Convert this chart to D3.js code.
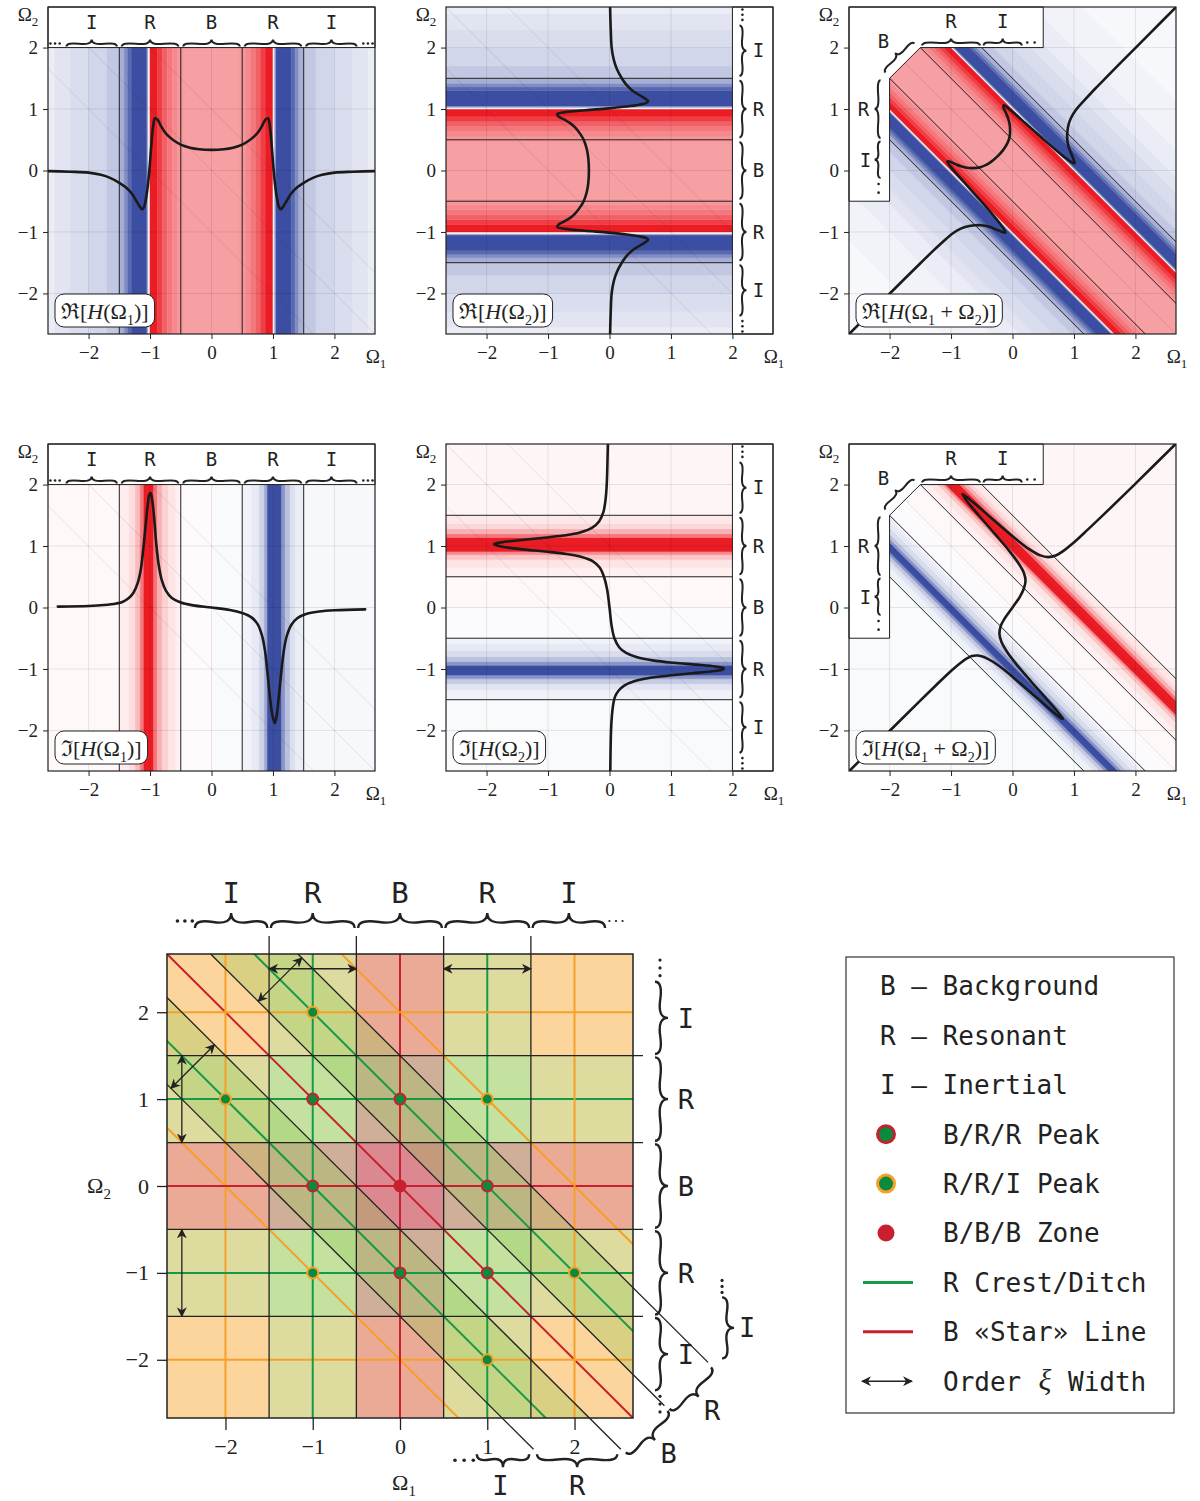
<!DOCTYPE html>
<html>
<head>
<meta charset="utf-8">
<script src="https://cdn.jsdelivr.net/npm/d3@7"></script>
<style>
  body { margin: 0; background: #fff; }
  svg { display: block; }
  .mono { font-family: "DejaVu Sans Mono", monospace; fill: #222; }
  .serif { font-family: "Liberation Serif", "DejaVu Serif", serif; fill: #222; }
</style>
</head>
<body>
<svg id="fig" width="1200" height="1501"></svg>
<script>
// ---- data ----
const ticks = [-2, -1, 0, 1, 2];
const regionBounds = [-1.5, -0.5, 0.5, 1.5];
const regionNames = ["I", "R", "B", "R", "I"];
const diagGrid = [-1, 0, 1];

// Re[H(Ω)] as drawn in the first panel
const reOmega = [-5.4, -4.5, -3.5, -3.0, -2.65, -2.3, -2.0, -1.8, -1.65, -1.5, -1.4, -1.3, -1.22, -1.17, -1.13, -1.1,
  -1.07, -1.04, -1.01, -0.98, -0.95, -0.92, -0.88, -0.83, -0.77, -0.7, -0.6, -0.5, -0.35, -0.2, 0,
  0.2, 0.35, 0.5, 0.6, 0.7, 0.77, 0.83, 0.88, 0.92, 0.95, 0.98, 1.01, 1.04, 1.07, 1.1, 1.13, 1.17, 1.22,
  1.3, 1.4, 1.5, 1.65, 1.8, 2.0, 2.3, 2.65, 3.0, 3.5, 4.5, 5.4];
const reValue = [-0.002, -0.003, -0.005, -0.008, -0.01, -0.02, -0.035, -0.07, -0.12, -0.2, -0.27, -0.37, -0.5, -0.58, -0.63, -0.6,
  -0.48, -0.28, 0.02, 0.4, 0.72, 0.85, 0.83, 0.74, 0.64, 0.56, 0.48, 0.42, 0.37, 0.345, 0.335,
  0.345, 0.37, 0.42, 0.48, 0.56, 0.64, 0.74, 0.83, 0.85, 0.72, 0.4, 0.02, -0.28, -0.48, -0.6, -0.63, -0.58, -0.5,
  -0.37, -0.27, -0.2, -0.12, -0.07, -0.035, -0.02, -0.01, -0.008, -0.005, -0.003, -0.002];

// Im[H(Ω)] as drawn in the fourth panel
const imOmega = [-5.4, -4, -3, -2.5, -2.0, -1.75, -1.55, -1.45, -1.35, -1.27, -1.2, -1.15, -1.11, -1.07, -1.04, -1.01,
  -0.99, -0.96, -0.93, -0.9, -0.86, -0.81, -0.74, -0.65, -0.5, -0.3, 0, 0.3, 0.5, 0.65, 0.75, 0.82, 0.87, 0.91,
  0.95, 0.99, 1.03, 1.06, 1.09, 1.13, 1.17, 1.22, 1.3, 1.4, 1.55, 1.75, 2.0, 2.5, 3, 4, 5.4];
const imValue = [0.003, 0.006, 0.01, 0.015, 0.025, 0.04, 0.065, 0.09, 0.15, 0.24, 0.4, 0.62, 0.95, 1.35, 1.65, 1.84,
  1.86, 1.72, 1.42, 1.05, 0.7, 0.45, 0.27, 0.16, 0.08, 0.035, 0, -0.04, -0.09, -0.16, -0.27, -0.45, -0.7, -1.05,
  -1.45, -1.75, -1.88, -1.76, -1.5, -1.1, -0.75, -0.48, -0.28, -0.17, -0.1, -0.065, -0.045, -0.03, -0.02, -0.01, -0.004];

// shading bands [from, to, level]; -1 full blue, +1 full red
const reShade = [[-5.5, -3.8, -0.04], [-3.8, -3.0, -0.07], [-3.0, -2.55, -0.1], [-2.55, -2.3, -0.15], [-2.3, -2.0, -0.19],
  [-2.0, -1.7, -0.23], [-1.7, -1.5, -0.31], [-1.5, -1.42, -0.45], [-1.42, -1.36, -0.65], [-1.36, -1.3, -0.85],
  [-1.3, -1.05, -1], [-1.05, -1.025, -0.5], [-1.025, -1.0, 0], [-1.0, -0.88, 1], [-0.88, -0.8, 0.85],
  [-0.8, -0.72, 0.7], [-0.72, -0.64, 0.6], [-0.64, -0.55, 0.52], [-0.55, -0.45, 0.46], [-0.45, 0.45, 0.42],
  [0.45, 0.55, 0.46], [0.55, 0.64, 0.52], [0.64, 0.72, 0.6], [0.72, 0.8, 0.7], [0.8, 0.88, 0.85], [0.88, 1.0, 1],
  [1.0, 1.025, 0], [1.025, 1.05, -0.5], [1.05, 1.3, -1], [1.3, 1.36, -0.85], [1.36, 1.42, -0.65], [1.42, 1.5, -0.45],
  [1.5, 1.7, -0.31], [1.7, 2.0, -0.23], [2.0, 2.3, -0.19], [2.3, 2.55, -0.15], [2.55, 3.0, -0.1], [3.0, 3.8, -0.07],
  [3.8, 5.5, -0.04]];
const imShade = [[-5.5, -1.5, 0.03], [-1.5, -1.34, 0.08], [-1.34, -1.24, 0.15], [-1.24, -1.16, 0.3], [-1.16, -1.1, 0.6],
  [-1.1, -0.94, 1], [-0.94, -0.88, 0.6], [-0.88, -0.8, 0.35], [-0.8, -0.7, 0.2], [-0.7, -0.58, 0.12],
  [-0.58, -0.5, 0.07], [-0.5, 0, 0.02], [0, 0.5, -0.03], [0.5, 0.65, -0.07], [0.65, 0.78, -0.12],
  [0.78, 0.86, -0.25], [0.86, 0.91, -0.5], [0.91, 1.14, -1], [1.14, 1.2, -0.6], [1.2, 1.28, -0.35],
  [1.28, 1.36, -0.18], [1.36, 1.5, -0.1], [1.5, 5.5, -0.04]];

// bottom map
const lineLevels = [-2, -1, 0, 1, 2];
const lineKinds = ["I", "R", "B", "R", "I"];
const brrPeaks = [[-1, 1], [0, 1], [-1, 0], [1, 0], [0, -1], [1, -1]];
const rriPeaks = [[-1, 2], [-2, 1], [1, 1], [-1, -1], [2, -1], [1, -2]];
const bbbZone = [[0, 0]];
const widthArrows = [
  [[-1.5, 2.5], [-0.5, 2.5]], [[0.5, 2.5], [1.5, 2.5]],
  [[-1.625, 2.125], [-1.125, 2.625]], [[-2.625, 1.125], [-2.125, 1.625]],
  [[-2.5, 1.5], [-2.5, 0.5]], [[-2.5, -0.5], [-2.5, -1.5]]];
const legendRows = [
  {sym: "B", text: "Background"}, {sym: "R", text: "Resonant"}, {sym: "I", text: "Inertial"},
  {sym: "brr", text: "B/R/R Peak"}, {sym: "rri", text: "R/R/I Peak"}, {sym: "bbb", text: "B/B/B Zone"},
  {sym: "crest", text: "R Crest/Ditch"}, {sym: "star", text: "B «Star» Line"}, {sym: "arrow", text: "Order"}];

// ---- styling ----
const RED = "#ec1c24", BLUE = "#3b4ea2";
const heat = d3.scaleLinear().domain([-1, 0, 1]).range([BLUE, "#ffffff", RED]);
const zoneFill = {I: "#fde9c7", R: "#e0f0ca", B: "#edbac0"};
const lineColor = {I: "#f6a02a", R: "#179a48", B: "#c8202f"};
const PEAK_GREEN = "#0a8a3c";

const svg = d3.select("#fig");
const defs = svg.append("defs");
defs.append("marker").attr("id", "ah").attr("viewBox", "0 0 10 10").attr("refX", 9).attr("refY", 5)
  .attr("markerWidth", 10).attr("markerHeight", 10).attr("markerUnits", "userSpaceOnUse")
  .attr("orient", "auto-start-reverse")
  .append("path").attr("d", "M0,0 L10,5 L0,10 L3,5 Z").attr("fill", "#222");

function richText(sel, parts, subSize) {
  let shift = 0;
  parts.forEach(([t, s]) => {
    const ts = sel.append("tspan").text(t);
    const want = s === "sub" ? 0.3 * subSize * 1.4 : 0;
    if (want !== shift) { ts.attr("dy", want - shift); shift = want; }
    if (s === "sub") ts.attr("font-size", subSize);
    if (s === "it") ts.attr("font-style", "italic");
  });
}

// curly brace from p1 to p2, cusp on the left of the direction p1->p2
function brace(x1, y1, x2, y2, w) {
  const len = Math.hypot(x2 - x1, y2 - y1), ux = (x2 - x1) / len, uy = (y2 - y1) / len;
  const nx = uy, ny = -ux, q = 0.6;
  const p = (a, b) => (x1 + ux * a + nx * b).toFixed(2) + " " + (y1 + uy * a + ny * b).toFixed(2);
  return `M${p(0, 0)} Q${p(0, q * w)} ${p(len * 0.25, (1 - q) * w)} T${p(len * 0.5, w)} ` +
    `M${p(len, 0)} Q${p(len, q * w)} ${p(len * 0.75, (1 - q) * w)} T${p(len * 0.5, w)}`;
}
function dots(g, x1, y1, x2, y2, n, r) {
  d3.range(n).forEach(i => {
    const t = n === 1 ? 0 : i / (n - 1);
    g.append("circle").attr("cx", x1 + (x2 - x1) * t).attr("cy", y1 + (y2 - y1) * t).attr("r", r).attr("fill", "#222");
  });
}
function letter(g, x, y, t, size) {
  g.append("text").attr("class", "mono").attr("x", x).attr("y", y).attr("text-anchor", "middle")
    .attr("dy", "0.36em").attr("font-size", size).text(t);
}

// ---- six response panels ----
const SIZE = 327, DOM = [-2.66, 2.66], L = 9;
const panels = [
  {left: 48, top: 7, kind: "x", src: "re", sign: 1, fn: "ℜ", args: ["1"], span: [-9, 9]},
  {left: 446, top: 7, kind: "y", src: "re", sign: 1, fn: "ℜ", args: ["2"], span: [-9, 9]},
  {left: 849, top: 7, kind: "s", src: "re", sign: 1, fn: "ℜ", args: ["1", "2"], span: [-9, 9]},
  {left: 48, top: 444, kind: "x", src: "im", sign: 1, fn: "ℑ", args: ["1"], span: [-2.56, 2.6]},
  {left: 446, top: 444, kind: "y", src: "im", sign: -1, fn: "ℑ", args: ["2"], span: [-9, 9]},
  {left: 849, top: 444, kind: "s", src: "im", sign: -1, fn: "ℑ", args: ["1", "2"], span: [-9, 9]}
];

function drawPanel(p, idx) {
  const x = d3.scaleLinear().domain(DOM).range([p.left, p.left + SIZE]);
  const y = d3.scaleLinear().domain(DOM).range([p.top + SIZE, p.top]);
  const toPath = pts => d3.line().x(d => x(d[0])).y(d => y(d[1]))(pts) + "Z";
  const g = svg.append("g");
  const cid = "clip" + idx;
  defs.append("clipPath").attr("id", cid).append("rect")
    .attr("x", p.left).attr("y", p.top).attr("width", SIZE).attr("height", SIZE);
  const inner = g.append("g").attr("clip-path", `url(#${cid})`);

  const shade = p.src === "re" ? reShade : imShade;
  const oms = p.src === "re" ? reOmega : imOmega;
  const vals = p.src === "re" ? reValue : imValue;

  const band = (a, b) => {
    if (p.kind === "x") return [[a, -L], [b, -L], [b, L], [a, L]];
    if (p.kind === "y") return [[-L, a], [L, a], [L, b], [-L, b]];
    return [[a + L, -L], [b + L, -L], [b - L, L], [a - L, L]];
  };
  const lineAt = c => {
    if (p.kind === "x") return [[c, -L], [c, L]];
    if (p.kind === "y") return [[-L, c], [L, c]];
    return [[c + L, -L], [c - L, L]];
  };

  inner.selectAll("path.band").data(shade).join("path").attr("class", "band")
    .attr("d", d => toPath(band(d[0], d[1])))
    .attr("fill", d => heat(p.sign * d[2])).attr("stroke", d => heat(p.sign * d[2])).attr("stroke-width", 0.5);

  // light grid
  const grid = inner.append("g").attr("stroke", "#000").attr("stroke-opacity", 0.09).attr("stroke-width", 1);
  ticks.forEach(t => {
    grid.append("line").attr("x1", x(t)).attr("x2", x(t)).attr("y1", p.top).attr("y2", p.top + SIZE);
    grid.append("line").attr("y1", y(t)).attr("y2", y(t)).attr("x1", p.left).attr("x2", p.left + SIZE);
  });
  diagGrid.forEach(s => grid.append("line")
    .attr("x1", x(s + L)).attr("y1", y(-L)).attr("x2", x(s - L)).attr("y2", y(L)));

  // region borders
  regionBounds.forEach(b => {
    const [a, c] = lineAt(b);
    inner.append("line").attr("x1", x(a[0])).attr("y1", y(a[1])).attr("x2", x(c[0])).attr("y2", y(c[1]))
      .attr("stroke", "#222").attr("stroke-width", 1);
  });

  // response curve
  const pts = [];
  oms.forEach((w, i) => {
    if (w < p.span[0] || w > p.span[1]) return;
    const v = p.sign * vals[i];
    if (p.kind === "x") pts.push([w, v]);
    else if (p.kind === "y") pts.push([-v, w]);
    else pts.push([w / 2 - v / Math.SQRT2, w / 2 + v / Math.SQRT2]);
  });
  inner.append("path").attr("d", d3.line().x(d => x(d[0])).y(d => y(d[1])).curve(d3.curveCatmullRom.alpha(0.5))(pts))
    .attr("fill", "none").attr("stroke", "#1a1a1a").attr("stroke-width", 2.6).attr("stroke-linejoin", "round")
    .attr("stroke-linecap", "round");

  // label box with braces
  const box = g.append("g");
  let boxD;
  if (p.kind === "x") boxD = `M${p.left},${p.top}H${p.left + SIZE}V${y(2)}H${p.left}Z`;
  else if (p.kind === "y") boxD = `M${x(2)},${p.top}H${p.left + SIZE}V${p.top + SIZE}H${x(2)}Z`;
  else boxD = `M${p.left},${p.top}H${x(0.5)}V${y(2)}H${x(-1.5)}L${x(-2)},${y(1.5)}V${y(-0.5)}H${p.left}Z`;
  box.append("path").attr("d", boxD).attr("fill", "#fff").attr("stroke", "#222").attr("stroke-width", 1);
  const br = box.append("g").attr("fill", "none").attr("stroke", "#222").attr("stroke-width", 2);
  const spans = [[-2.36, -1.54], [-1.46, -0.54], [-0.46, 0.46], [0.54, 1.46], [1.54, 2.36]];
  if (p.kind === "x") {
    const yb = y(2) - 1;
    spans.forEach((s, i) => {
      br.append("path").attr("d", brace(x(s[0]), yb, x(s[1]), yb, 7));
      letter(box, x((s[0] + s[1]) / 2), p.top + 15, regionNames[i], 19);
    });
    dots(box, x(-2.62), yb - 3, x(-2.47), yb - 3, 3, 1.3);
    dots(box, x(2.47), yb - 3, x(2.62), yb - 3, 3, 1.3);
  } else if (p.kind === "y") {
    const xb = x(2) + 7;
    spans.forEach((s, i) => {
      br.append("path").attr("d", brace(xb, y(s[1]), xb, y(s[0]), 7));
      letter(box, x(2) + 26, y((s[0] + s[1]) / 2), regionNames[i], 19);
    });
    dots(box, xb + 3, y(2.62), xb + 3, y(2.45), 3, 1.3);
    dots(box, xb + 3, y(-2.45), xb + 3, y(-2.62), 3, 1.3);
  } else {
    const yb = y(2) - 2;
    br.append("path").attr("d", brace(x(-1.47), yb, x(-0.53), yb, 7));
    br.append("path").attr("d", brace(x(-0.47), yb, x(0.15), yb, 7));
    letter(box, x(-1), p.top + 14, "R", 19);
    letter(box, x(-0.16), p.top + 14, "I", 19);
    dots(box, x(0.24), yb - 3, x(0.36), yb - 3, 2, 1.3);
    const xb = x(-2) - 9;
    br.append("path").attr("d", brace(xb, y(0.53), xb, y(1.47), 6));
    br.append("path").attr("d", brace(xb, y(-0.12), xb, y(0.47), 6));
    letter(box, x(-2) - 26, y(1), "R", 19);
    letter(box, x(-2) - 24, y(0.17), "I", 19);
    dots(box, xb - 2, y(-0.22), xb - 2, y(-0.36), 2, 1.3);
    br.append("path").attr("d", brace(x(-2) - 4, y(1.53) - 4, x(-1.53) - 4, y(2) - 4, 7));
    letter(box, x(-2) - 6, y(2) - 6, "B", 19);
  }

  // frame and axes
  g.append("rect").attr("x", p.left).attr("y", p.top).attr("width", SIZE).attr("height", SIZE)
    .attr("fill", "none").attr("stroke", "#222").attr("stroke-width", 1.2);
  const fmt = d3.format("d");
  const ax = g.append("g").attr("transform", `translate(0,${p.top + SIZE})`)
    .call(d3.axisBottom(x).tickValues(ticks).tickSize(5).tickPadding(7).tickFormat(fmt));
  const ay = g.append("g").attr("transform", `translate(${p.left},0)`)
    .call(d3.axisLeft(y).tickValues(ticks).tickSize(5).tickPadding(5).tickFormat(fmt));
  [ax, ay].forEach(a => {
    a.select(".domain").remove();
    a.attr("font-family", null).attr("font-size", null);
    a.selectAll("line").attr("stroke", "#222");
    a.selectAll("text").attr("class", "serif").attr("font-size", 19).attr("fill", "#222");
  });
  richText(g.append("text").attr("class", "serif").attr("font-size", 19).attr("text-anchor", "middle")
    .attr("x", p.left - 20).attr("y", p.top + 14), [["Ω", ""], ["2", "sub"]], 13);
  richText(g.append("text").attr("class", "serif").attr("font-size", 19).attr("text-anchor", "middle")
    .attr("x", p.left + SIZE + 1).attr("y", p.top + SIZE + 29), [["Ω", ""], ["1", "sub"]], 13);

  // function label
  const lab = g.append("g");
  const txt = lab.append("text").attr("class", "serif").attr("font-size", 22)
    .attr("x", p.left + 13).attr("y", p.top + SIZE - 15);
  const parts = [[p.fn + "[", ""], ["H", "it"], ["(Ω", ""], [p.args[0], "sub"]];
  if (p.args.length > 1) parts.push([" + Ω", ""], [p.args[1], "sub"]);
  parts.push([")]", ""]);
  richText(txt, parts, 14);
  const bb = txt.node().getBBox();
  lab.insert("rect", "text").attr("x", bb.x - 6).attr("y", p.top + SIZE - 40).attr("width", bb.width + 12)
    .attr("height", 33).attr("rx", 9).attr("fill", "#fff").attr("stroke", "#222").attr("stroke-width", 1);
}
panels.forEach(drawPanel);

// ---- bottom map of zones ----
const bx = d3.scaleLinear().domain([-2.67, 2.67]).range([167, 633]);
const by = d3.scaleLinear().domain([-2.67, 2.67]).range([1418, 954]);
const edges = [-2.67, ...regionBounds, 2.67];
const mapG = svg.append("g");
defs.append("clipPath").attr("id", "mapclip").append("rect")
  .attr("x", 167).attr("y", 954).attr("width", 466).attr("height", 464);
const cells = mapG.append("g").attr("clip-path", "url(#mapclip)").style("isolation", "isolate");
cells.append("rect").attr("x", 167).attr("y", 954).attr("width", 466).attr("height", 464).attr("fill", "#fff");
regionNames.forEach((n, i) => {
  cells.append("rect").attr("x", bx(edges[i])).attr("width", bx(edges[i + 1]) - bx(edges[i]))
    .attr("y", 954).attr("height", 464).attr("fill", zoneFill[n]).style("mix-blend-mode", "multiply");
  cells.append("rect").attr("y", by(edges[i + 1])).attr("height", by(edges[i]) - by(edges[i + 1]))
    .attr("x", 167).attr("width", 466).attr("fill", zoneFill[n]).style("mix-blend-mode", "multiply");
});
[[-1.5, -0.5], [0.5, 1.5]].forEach(([a, b]) => {
  const pts = [[a + L, -L], [b + L, -L], [b - L, L], [a - L, L]];
  cells.append("path").attr("d", d3.line().x(d => bx(d[0])).y(d => by(d[1]))(pts) + "Z")
    .attr("fill", "#8cc850").attr("fill-opacity", 0.3);
});
const colored = mapG.append("g").attr("clip-path", "url(#mapclip)").attr("stroke-width", 2);
lineLevels.forEach((c, i) => {
  colored.append("line").attr("x1", bx(c + L)).attr("y1", by(-L)).attr("x2", bx(c - L)).attr("y2", by(L))
    .attr("stroke", lineColor[lineKinds[i]]);
});
lineLevels.forEach((c, i) => {
  const col = lineColor[lineKinds[i]];
  colored.append("line").attr("x1", bx(c)).attr("x2", bx(c)).attr("y1", 954).attr("y2", 1418).attr("stroke", col);
  colored.append("line").attr("y1", by(c)).attr("y2", by(c)).attr("x1", 167).attr("x2", 633).attr("stroke", col);
});
// zone borders, extended past the frame towards the brace labels
const blk = mapG.append("g").attr("stroke", "#222").attr("stroke-width", 1.3);
regionBounds.forEach(b => {
  blk.append("line").attr("x1", bx(b)).attr("x2", bx(b)).attr("y1", 936).attr("y2", 1418);
  blk.append("line").attr("y1", by(b)).attr("y2", by(b)).attr("x1", 167).attr("x2", 643);
  const xs = Math.max(-2.67, b - 2.67);
  const xe = Math.min(b + 3.03, (b + 5.56) / 2);
  blk.append("line").attr("x1", bx(xs)).attr("y1", by(b - xs)).attr("x2", bx(xe)).attr("y2", by(b - xe));
});
mapG.append("rect").attr("x", 167).attr("y", 954).attr("width", 466).attr("height", 464)
  .attr("fill", "none").attr("stroke", "#222").attr("stroke-width", 1.5);

// peaks
const peakG = mapG.append("g");
brrPeaks.forEach(d => peakG.append("circle").attr("cx", bx(d[0])).attr("cy", by(d[1])).attr("r", 5.5)
  .attr("fill", PEAK_GREEN).attr("stroke", lineColor.B).attr("stroke-width", 2));
rriPeaks.forEach(d => peakG.append("circle").attr("cx", bx(d[0])).attr("cy", by(d[1])).attr("r", 5.5)
  .attr("fill", PEAK_GREEN).attr("stroke", lineColor.I).attr("stroke-width", 2));
bbbZone.forEach(d => peakG.append("circle").attr("cx", bx(d[0])).attr("cy", by(d[1])).attr("r", 6.5)
  .attr("fill", lineColor.B));

// width arrows
widthArrows.forEach(([a, b]) => mapG.append("line")
  .attr("x1", bx(a[0])).attr("y1", by(a[1])).attr("x2", bx(b[0])).attr("y2", by(b[1]))
  .attr("stroke", "#222").attr("stroke-width", 1.3)
  .attr("marker-start", "url(#ah)").attr("marker-end", "url(#ah)"));

// axes of the map
const mfmt = d3.format("d");
const max = mapG.append("g").attr("transform", "translate(0,1418)")
  .call(d3.axisBottom(bx).tickValues(ticks).tickSize(12).tickPadding(8).tickFormat(mfmt));
const may = mapG.append("g").attr("transform", "translate(167,0)")
  .call(d3.axisLeft(by).tickValues(ticks).tickSize(10).tickPadding(8).tickFormat(mfmt));
[max, may].forEach(a => {
  a.select(".domain").remove();
  a.attr("font-family", null).attr("font-size", null);
  a.selectAll("line").attr("stroke", "#222").attr("stroke-width", 1.3);
  a.selectAll("text").attr("class", "serif").attr("font-size", 22).attr("fill", "#222");
});
richText(mapG.append("text").attr("class", "serif").attr("font-size", 22).attr("text-anchor", "middle")
  .attr("x", 99).attr("y", 1193), [["Ω", ""], ["2", "sub"]], 15);
richText(mapG.append("text").attr("class", "serif").attr("font-size", 22).attr("text-anchor", "middle")
  .attr("x", 404).attr("y", 1490), [["Ω", ""], ["1", "sub"]], 15);

// braces around the map
const mb = mapG.append("g").attr("fill", "none").attr("stroke", "#222").attr("stroke-width", 2.4);
const topSpans = [[-2.35, -1.52], [-1.48, -0.52], [-0.48, 0.48], [0.52, 1.48], [1.52, 2.35]];
topSpans.forEach((s, i) => {
  mb.append("path").attr("d", brace(bx(s[0]), 928, bx(s[1]), 928, 15));
  letter(mapG, bx((s[0] + s[1]) / 2), 893, regionNames[i], 29);
  mb.append("path").attr("d", brace(655, by(-s[0]), 655, by(-s[1]), 13));
  letter(mapG, 686, by(-(s[0] + s[1]) / 2), regionNames[i], 27);
});
dots(mapG, bx(-2.55), 921, bx(-2.38), 921, 3, 1.8);
dots(mapG, bx(2.4), 921, bx(2.55), 921, 3, 1.1);
dots(mapG, 660, by(2.6), 660, by(2.42), 3, 1.6);
dots(mapG, 660, by(-2.42), 660, by(-2.6), 3, 1.6);

// diagonal zone labels at the lower right
const endC = [bx(2.53), by(-3.03)], endB = [bx(3.03), by(-2.53)], endA = [bx(3.53), by(-2.03)];
const yBot = by(-3.03) + 5;
mb.append("path").attr("d", brace(bx(2.49), yBot, bx(1.57), yBot, 13));
mb.append("path").attr("d", brace(bx(1.48), yBot, bx(0.88), yBot, 13));
dots(mapG, bx(0.63), yBot + 6, bx(0.84), yBot + 6, 3, 1.8);
letter(mapG, bx(2.03), 1485, "R", 27);
letter(mapG, bx(1.15), 1485, "I", 27);
const diagBrace = (p1, p2, t) => {
  const a = [p1[0] + 4, p1[1] + 4], b = [p2[0] + 4, p2[1] + 4];
  mb.append("path").attr("d", brace(a[0] - 1, a[1] + 1, b[0] + 1, b[1] - 1, 12));
  letter(mapG, (a[0] + b[0]) / 2 + 22, (a[1] + b[1]) / 2 + 22, t, 27);
};
diagBrace(endB, endC, "B");
diagBrace(endA, endB, "R");
mb.append("path").attr("d", brace(endA[0] + 14, endA[1] - 65, endA[0] + 14, endA[1] - 4, 12));
letter(mapG, endA[0] + 39, endA[1] - 35, "I", 27);
dots(mapG, endA[0] + 14, endA[1] - 82, endA[0] + 14, endA[1] - 70, 3, 1.6);

// ---- legend ----
const lg = svg.append("g");
lg.append("rect").attr("x", 846).attr("y", 957).attr("width", 328).attr("height", 456)
  .attr("fill", "#fff").attr("stroke", "#333").attr("stroke-width", 1.2);
legendRows.forEach((r, i) => {
  const yy = 986 + i * 49.4;
  const t = lg.append("text").attr("class", "mono").attr("font-size", 26).attr("dy", "0.36em").attr("y", yy);
  if (["B", "R", "I"].includes(r.sym)) { t.attr("x", 880).text(r.sym + " – " + r.text); return; }
  t.attr("x", 943).text(r.text);
  if (r.sym === "brr" || r.sym === "rri" || r.sym === "bbb") {
    lg.append("circle").attr("cx", 886).attr("cy", yy).attr("r", 8.5)
      .attr("fill", r.sym === "bbb" ? lineColor.B : PEAK_GREEN)
      .attr("stroke", r.sym === "rri" ? lineColor.I : lineColor.B).attr("stroke-width", r.sym === "bbb" ? 0 : 3);
  } else if (r.sym === "crest" || r.sym === "star") {
    lg.append("line").attr("x1", 863).attr("x2", 913).attr("y1", yy).attr("y2", yy)
      .attr("stroke", r.sym === "crest" ? lineColor.R : lineColor.B).attr("stroke-width", 3);
  } else {
    lg.append("line").attr("x1", 862).attr("x2", 912).attr("y1", yy).attr("y2", yy)
      .attr("stroke", "#222").attr("stroke-width", 1.5)
      .attr("marker-start", "url(#ah)").attr("marker-end", "url(#ah)");
    lg.append("text").attr("class", "serif").attr("font-size", 30).attr("font-style", "italic")
      .attr("x", 1045).attr("y", yy).attr("dy", "0.3em").attr("text-anchor", "middle").text("ξ");
    lg.append("text").attr("class", "mono").attr("font-size", 26).attr("dy", "0.36em")
      .attr("x", 1068).attr("y", yy).text("Width");
  }
});
</script>
</body>
</html>
